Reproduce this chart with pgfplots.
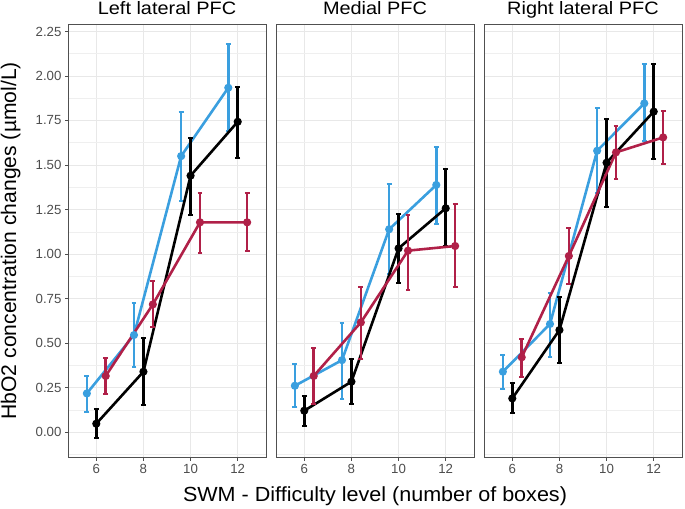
\documentclass[border=0pt]{standalone}
\usepackage{pgfplots}
\pgfplotsset{compat=1.18}
\usepackage{pgfplotstable}
\usepgfplotslibrary{groupplots}
\usepackage{fontspec}
\setmainfont{Liberation Sans}
\definecolor{cblue}{RGB}{58,159,223}
\definecolor{cred}{RGB}{176,32,72}
\definecolor{gridc}{RGB}{232,232,232}
\definecolor{tickc}{RGB}{77,77,77}
\definecolor{framec}{RGB}{80,80,80}

% Left lateral PFC
\pgfplotstableread{
x y lo hi
5.6 0.217 0.114 0.317
7.6 0.545 0.363 0.723
9.6 1.550 1.300 1.800
11.6 1.934 1.690 2.180
}\LBlue
\pgfplotstableread{
x y lo hi
6 0.047 -0.035 0.130
8 0.339 0.150 0.526
10 1.440 1.220 1.650
12 1.743 1.540 1.940
}\LBlack
\pgfplotstableread{
x y lo hi
6.4 0.315 0.213 0.414
8.4 0.717 0.590 0.850
10.4 1.178 1.004 1.340
12.4 1.178 1.017 1.340
}\LRed
% Medial PFC
\pgfplotstableread{
x y lo hi
5.6 0.260 0.142 0.380
7.6 0.404 0.185 0.610
9.6 1.139 0.890 1.393
11.6 1.388 1.170 1.600
}\MBlue
\pgfplotstableread{
x y lo hi
6 0.120 0.035 0.204
8 0.283 0.155 0.410
10 1.032 0.840 1.225
12 1.257 1.047 1.480
}\MBlack
\pgfplotstableread{
x y lo hi
6.4 0.315 0.160 0.470
8.4 0.616 0.408 0.817
10.4 1.019 0.798 1.219
12.4 1.045 0.813 1.280
}\MRed
% Right lateral PFC
\pgfplotstableread{
x y lo hi
5.6 0.339 0.240 0.433
7.6 0.607 0.423 0.779
9.6 1.580 1.340 1.818
11.6 1.846 1.637 2.065
}\RBlue
\pgfplotstableread{
x y lo hi
6 0.189 0.105 0.273
8 0.573 0.386 0.760
10 1.513 1.262 1.757
12 1.800 1.532 2.065
}\RBlack
\pgfplotstableread{
x y lo hi
6.4 0.420 0.307 0.520
8.4 0.989 0.831 1.144
10.4 1.571 1.421 1.719
12.4 1.655 1.506 1.805
}\RRed

\pgfplotsset{
  ser/.style={line width=2.6bp, mark=*, mark size=2.7bp, mark options={solid},
    error bars/y dir=both, error bars/y explicit,
    error bars/error bar style={line width=2.6bp},
    error bars/error mark=-,
    error bars/error mark options={rotate=90, line width=2bp, mark size=2.4bp}},
  table/tab/.style={x=x, y=y, y error plus expr=\thisrow{hi}-\thisrow{y}, y error minus expr=\thisrow{y}-\thisrow{lo}},
}

\begin{document}
\begin{tikzpicture}
\begin{groupplot}[
  group style={group size=3 by 1, horizontal sep=10bp, yticklabels at=edge left},
  width=198bp, height=433.5bp, scale only axis,
  xmin=4.8, xmax=13.2, ymin=-0.143, ymax=2.292,
  xtick={6,8,10,12},
  ytick={0,0.25,0.5,0.75,1,1.25,1.5,1.75,2,2.25},
  minor ytick={-0.125,0.125,0.375,0.625,0.875,1.125,1.375,1.625,1.875,2.125},
  grid=both,
  major grid style={gridc, line width=0.9bp},
  minor grid style={gridc!70!white, line width=0.5bp},
  minor tick length=0pt,
  axis line style={framec, line width=0.7bp},
  tick align=outside, tick pos=left,
  major tick length=3bp,
  tick style={tickc, line width=0.6bp},
  /pgf/number format/assume math mode=true,
  yticklabel style={/pgf/number format/.cd, fixed, fixed zerofill, precision=2},
  ticklabel style={font=\fontsize{13.3}{15}\selectfont, color=tickc},
  every axis title shift=0pt,
  title style={font=\fontsize{18}{22}\selectfont, at={(axis description cs:0.5,1)}, anchor=base, yshift=9bp},
  clip=false,
]
\nextgroupplot[title={\scalebox{1.11}[1]{Left lateral PFC}},
  ylabel={HbO2 concentration changes (\textmu mol/L)},
  ylabel style={font=\fontsize{21.2}{24}\selectfont, at={(axis description cs:-0.2626,0.5)}, anchor=base}]
\addplot[ser, color=cblue] table[tab] {\LBlue};
\addplot[ser, color=black] table[tab] {\LBlack};
\addplot[ser, color=cred] table[tab] {\LRed};

\nextgroupplot[title={\scalebox{1.11}[1]{Medial PFC}}, ytick style={draw=none},
  xlabel={\scalebox{1.055}[1]{SWM - Difficulty level (number of boxes)}},
  xlabel style={font=\fontsize{20.5}{24}\selectfont, at={(axis description cs:0.5,-0.102)}, anchor=base}]
\addplot[ser, color=cblue] table[tab] {\MBlue};
\addplot[ser, color=black] table[tab] {\MBlack};
\addplot[ser, color=cred] table[tab] {\MRed};

\nextgroupplot[title={\scalebox{1.11}[1]{Right lateral PFC}}, ytick style={draw=none}]
\addplot[ser, color=cblue] table[tab] {\RBlue};
\addplot[ser, color=black] table[tab] {\RBlack};
\addplot[ser, color=cred] table[tab] {\RRed};
\end{groupplot}
\pgfresetboundingbox
\path ([shift={(-68bp,-50.5bp)}]group c1r1.south west) rectangle ([shift={(3bp,24bp)}]group c3r1.north east);
\end{tikzpicture}
\end{document}
